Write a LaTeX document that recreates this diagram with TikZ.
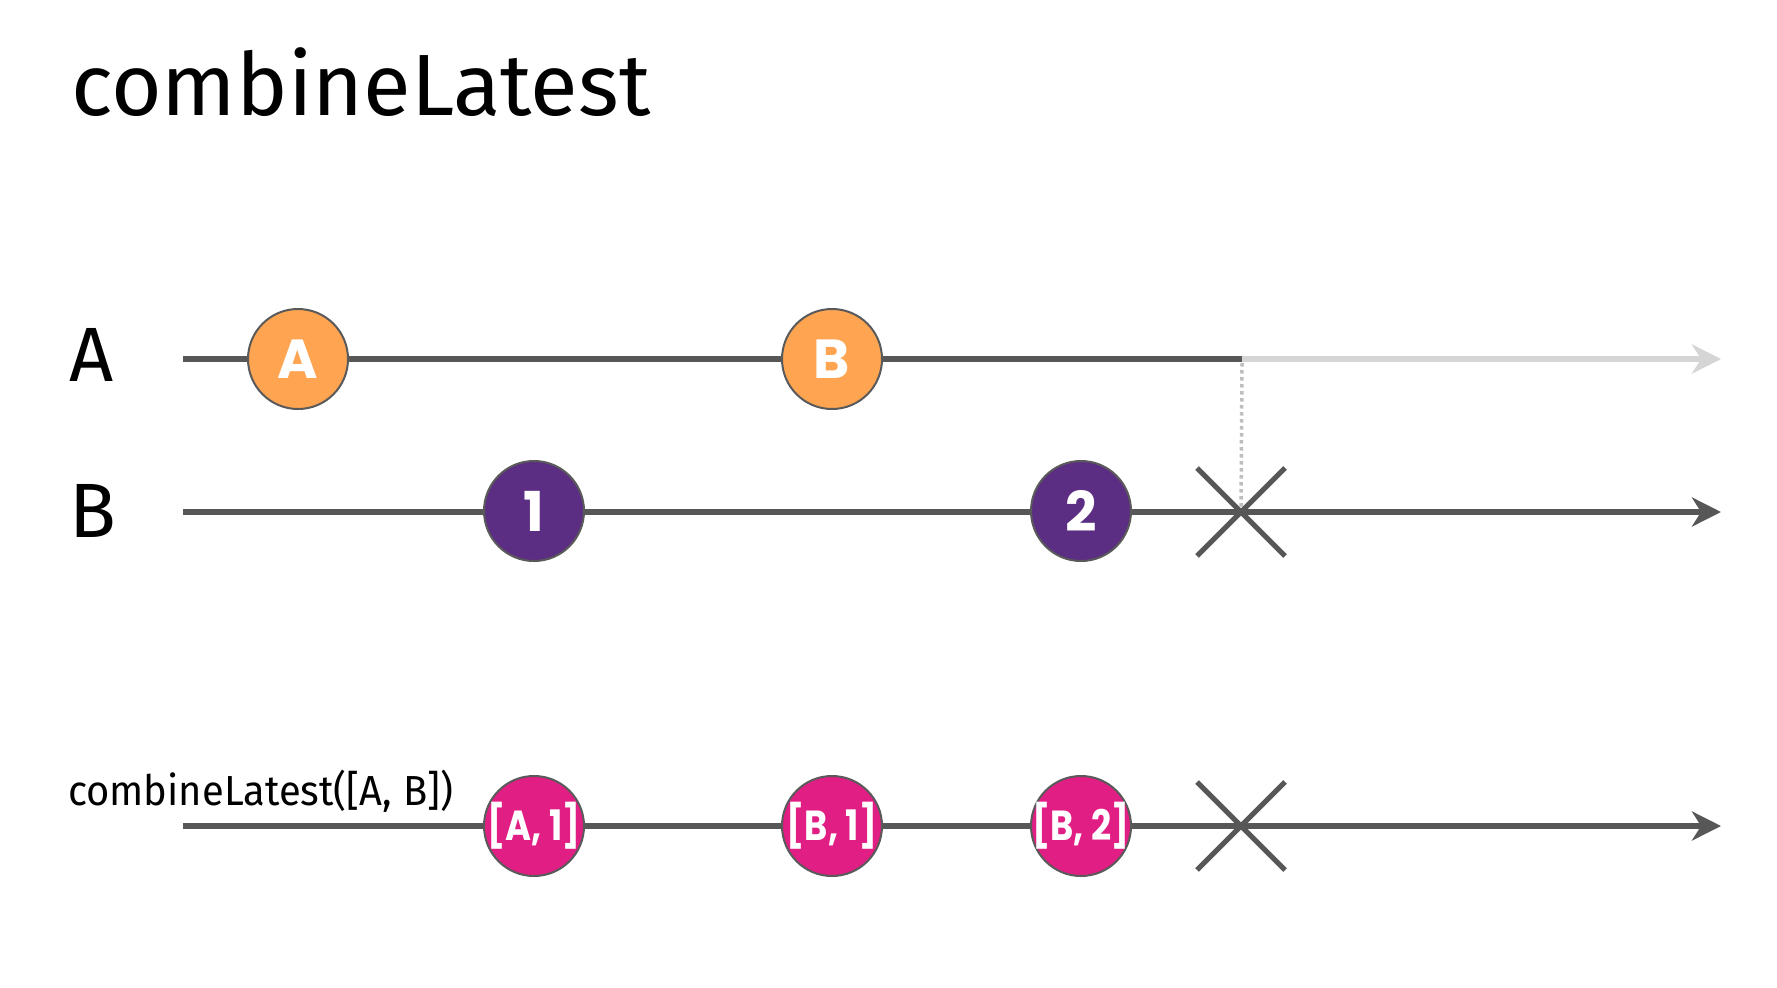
\documentclass[tikz,border=0pt]{standalone}
\usepackage{fontspec}
\setmainfont{Fira Sans}
\newfontfamily\popb{Poppins}[UprightFont=* Bold, BoldFont=* Bold]
\usetikzlibrary{arrows.meta}
\definecolor{lineg}{HTML}{575757}
\definecolor{lightg}{HTML}{D5D5D5}
\definecolor{dotg}{HTML}{BEBEBE}
\definecolor{rimg}{HTML}{5A5A5A}
\definecolor{orangem}{HTML}{FFA552}
\definecolor{purplem}{HTML}{5C2E83}
\definecolor{pinkm}{HTML}{E01E84}
\newcommand{\pairtext}[1]{\makebox[0pt]{\scalebox{0.84}[1]{#1}}}
\begin{document}
\begin{tikzpicture}[x=1bp,y=-1bp,
  track/.style={line width=6.5bp, draw=lineg},
  arrowtrack/.style={track, -{Stealth[length=29bp,width=29bp,inset=9bp]}},
  lighttrack/.style={line width=6.5bp, draw=lightg, -{Stealth[length=29bp,width=29bp,inset=9bp]}},
  xmark/.style={line width=5bp, draw=lineg},
  dotline/.style={line width=3.5bp, draw=dotg, dash pattern=on 3.5bp off 3.5bp},
  marble/.style={circle, minimum size=100bp, inner sep=0pt, draw=rimg, line width=2bp, text=white, font=\popb\fontsize{55bp}{55bp}\selectfont},
  pairm/.style={marble, fill=pinkm, font=\popb\fontsize{42bp}{42bp}\selectfont},
  lbl/.style={inner sep=0pt, anchor=base west, text=black}
]
\useasboundingbox (0,0) rectangle (1777,987);
\fill[white] (0,0) rectangle (1777,987);

% coordinates
\coordinate (a0) at (183,359);
\coordinate (aX) at (1242,359);
\coordinate (aEnd) at (1721,359);
\coordinate (b0) at (183,512);
\coordinate (bx) at (1241,512);
\coordinate (bEnd) at (1721,512);
\coordinate (c0) at (183,826);
\coordinate (cx) at (1241,826);
\coordinate (cEnd) at (1721,826);

% texts
\node[lbl, font=\fontsize{87bp}{87bp}\selectfont] (title) at (71,115) {combineLatest};
\node[lbl, font=\fontsize{77bp}{77bp}\selectfont] (labA) at (69,381) {A};
\node[lbl, font=\fontsize{77bp}{77bp}\selectfont] (labB) at (69,537) {B};
\node[lbl, font=\fontsize{42bp}{42bp}\selectfont] (labC) at (68,805) {\scalebox{0.95}[1]{combineLatest([A, B])}};

% tracks
\draw[lighttrack] (aX) -- (aEnd);
\draw[track] (a0) -- (aX);
\draw[arrowtrack] (b0) -- (bEnd);
\draw[arrowtrack] (c0) -- (cEnd);

% dotted link and completion marks
\draw[dotline] ([yshift=-4bp]aX) -- (bx);
\draw[xmark] (bx) +(-44,-44) -- +(44,44) +(-44,44) -- +(44,-44);
\draw[xmark] (cx) +(-44,-44) -- +(44,44) +(-44,44) -- +(44,-44);

% marbles
\node[marble, fill=orangem] (mA) at (298,359) {A};
\node[marble, fill=orangem] (mB) at (832,359) {B};
\node[marble, fill=purplem] (m1) at (534,511) {1};
\node[marble, fill=purplem] (m2) at (1081,511) {2};
\node[pairm] (r1) at (534,826) {\pairtext{[A, 1]}};
\node[pairm] (r2) at (832,826) {\pairtext{[B, 1]}};
\node[pairm] (r3) at (1081,826) {\pairtext{[B, 2]}};
\end{tikzpicture}
\end{document}
